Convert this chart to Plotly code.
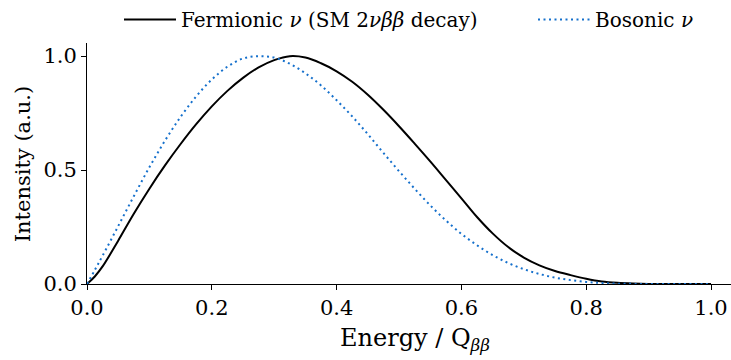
import plotly.graph_objects as go

energy = [0.0, 0.0125, 0.025, 0.05, 0.075, 0.1, 0.125, 0.15, 0.175, 0.2, 0.225, 0.25, 0.275,
          0.3, 0.325, 0.35, 0.375, 0.4, 0.425, 0.45, 0.475, 0.5, 0.525, 0.55, 0.575,
          0.6, 0.625, 0.65, 0.675, 0.7, 0.725, 0.75, 0.775, 0.8, 0.825, 0.85, 0.875,
          0.9, 0.95, 1.0]

fermionic = [0.0, 0.033, 0.077, 0.19, 0.308, 0.418, 0.52, 0.614, 0.701, 0.779, 0.847, 0.904, 0.95,
             0.982, 0.999, 0.993, 0.968, 0.933, 0.887, 0.83, 0.764, 0.692, 0.616, 0.538, 0.457,
             0.376, 0.294, 0.222, 0.162, 0.116, 0.082, 0.057, 0.039, 0.023, 0.011, 0.005, 0.002,
             0.0005, 0.0, 0.0]

bosonic = [0.0, 0.061, 0.124, 0.254, 0.385, 0.512, 0.629, 0.733, 0.823, 0.897, 0.953, 0.989, 0.999,
           0.993, 0.966, 0.924, 0.871, 0.806, 0.735, 0.657, 0.575, 0.495, 0.418, 0.345, 0.279,
           0.22, 0.17, 0.127, 0.092, 0.065, 0.044, 0.028, 0.017, 0.009, 0.004, 0.0015, 0.0005,
           0.0, 0.0, 0.0]

x_ticks = [0.0, 0.2, 0.4, 0.6, 0.8, 1.0]
y_ticks = [0.0, 0.5, 1.0]

FONT = "DejaVu Serif"

fig = go.Figure()
fig.add_trace(go.Scatter(
    x=energy, y=fermionic, mode="lines",
    line=dict(color="black", width=2, shape="spline", smoothing=1.0),
    name="Fermionic <i>ν</i> (SM 2<i>νββ</i> decay)",
    legend="legend",
))
fig.add_trace(go.Scatter(
    x=energy, y=bosonic, mode="lines",
    line=dict(color="#1570cc", width=2, dash="2px,3.5px", shape="spline", smoothing=1.0),
    name="Bosonic <i>ν</i>",
    legend="legend2",
))

legend_common = dict(
    orientation="h", y=1.0, xanchor="left", yanchor="top", yref="container",
    itemwidth=52, font=dict(size=20, family=FONT), bgcolor="rgba(0,0,0,0)",
)

fig.update_layout(
    width=731, height=360,
    margin=dict(l=87, r=0, t=43, b=76),
    plot_bgcolor="white", paper_bgcolor="white",
    font=dict(family=FONT, size=21, color="black"),
    showlegend=True,
    legend=dict(x=(119 - 87) / 644, **legend_common),
    legend2=dict(x=(533 - 87) / 644, **legend_common),
    xaxis=dict(
        range=[0, 1.032], tickvals=x_ticks, ticktext=[f"{v:.1f}" for v in x_ticks],
        showgrid=False, zeroline=False, showline=True, linecolor="black", linewidth=1,
        ticks="outside", ticklen=5, tickwidth=1, tickcolor="black",
        tickfont=dict(size=21, family=FONT),
    ),
    yaxis=dict(
        range=[0, 1.057], tickvals=y_ticks, ticktext=[f"{v:.1f}" for v in y_ticks],
        showgrid=False, zeroline=False, showline=True, linecolor="black", linewidth=1,
        ticks="outside", ticklen=5, tickwidth=1, tickcolor="black",
        tickfont=dict(size=21, family=FONT),
    ),
    annotations=[
        dict(text="Energy / Q<sub><i>ββ</i></sub>", xref="paper", yref="paper",
             x=(415 - 87) / 644, y=-(339 - 283.5) / 240.5, xanchor="center", yanchor="middle",
             showarrow=False, font=dict(size=24, family=FONT)),
        dict(text="Intensity (a.u.)", xref="paper", yref="paper",
             x=-(87 - 23) / 644, y=(283.5 - 164) / 240.5, xanchor="center", yanchor="middle",
             textangle=-90, showarrow=False, font=dict(size=21, family=FONT)),
    ],
)

fig.write_html("out.html")
